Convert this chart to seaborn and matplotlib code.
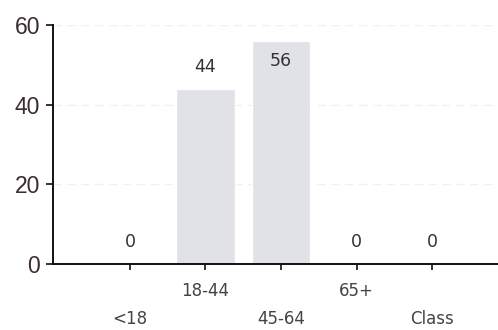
import matplotlib
matplotlib.use("Agg")
import matplotlib.pyplot as plt
import seaborn as sns
import pandas as pd

categories = ["<18", "18-44", "45-64", "65+", "Class"]
values = [0, 44, 56, 0, 0]
y_ticks = [0, 20, 40, 60]

sns.set_style("white")
plt.rcParams["font.family"] = ["Liberation Sans", "DejaVu Sans"]

df = pd.DataFrame({"group": categories, "value": values})

fig = plt.figure(figsize=(4.98, 3.3), dpi=100)
ax = fig.add_axes([0.106, 0.2, 0.894, 0.724])

sns.barplot(data=df, x="group", y="value", color="#e1e1e8", width=0.77,
            saturation=1, ax=ax, zorder=2)

ax.set_xlim(-1.02, 4.87)
ax.set_ylim(0, 60)
ax.set_yticks(y_ticks)
ax.set_xlabel("")
ax.set_ylabel("")

# faint horizontal guides
for yv in y_ticks[1:]:
    ax.axhline(yv, color="#f0f0f0", lw=1, ls=(0, (6, 4)), zorder=1)

for s in ["top", "right"]:
    ax.spines[s].set_visible(False)
for s in ["left", "bottom"]:
    ax.spines[s].set_color("#111111")
    ax.spines[s].set_linewidth(1.4)

ax.tick_params(axis="y", direction="out", length=5, width=1.2, color="#111111",
               labelsize=16.5, labelcolor="#3a2c32", pad=4, left=True)
ax.tick_params(axis="x", direction="out", length=4, width=1.2, color="#111111",
               labelcolor="#444444", bottom=True)

# staggered category labels
for i, tick in enumerate(ax.xaxis.get_major_ticks()):
    tick.set_pad(9 if i % 2 == 1 else 29)
for lab in ax.get_xticklabels():
    lab.set_fontfamily("DejaVu Sans")
    lab.set_fontsize(12)

# value labels
for i, v in enumerate(values):
    ypos = v + 5.5 if v + 6 < 58 else v - 5
    ax.text(i, ypos, f"{v}", ha="center", va="center", fontsize=12.5,
            family="DejaVu Sans", color="#333333", zorder=3)

fig.savefig("out.png", dpi=100)
